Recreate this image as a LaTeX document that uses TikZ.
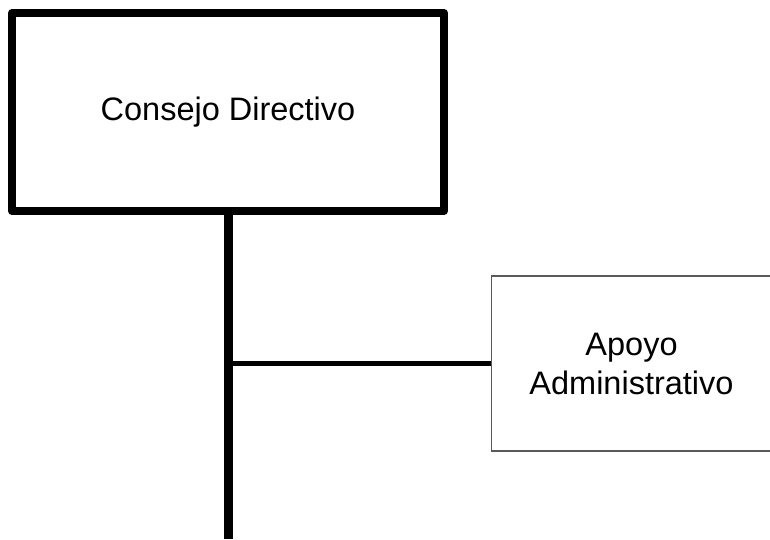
\documentclass[tikz,border=0pt]{standalone}
\usepackage{fontspec}
\setmainfont{Liberation Sans}
\begin{document}
\begin{tikzpicture}[x=1pt,y=1pt,
  headbox/.style={draw=black, line width=8pt, line join=round, fill=white,
    minimum width=432pt, minimum height=198pt, inner sep=0pt,
    font=\fontsize{32.5}{39}\selectfont},
  unitbox/.style={draw=black!65, line width=1.6pt, fill=white,
    minimum width=280pt, minimum height=175pt, inner sep=0pt, align=center,
    font=\fontsize{32.5}{39}\selectfont},
  trunk/.style={line width=9pt},
  branch/.style={line width=4.5pt}]
\useasboundingbox (0,0) rectangle (770,539);

% spine of the chart
\coordinate (spinetop) at (228.5,328);
\coordinate (spinebot) at (228.5,0);
\draw[trunk] (spinetop) -- (spinebot);

% governing board
\node[headbox] (board) at (228,427) {Consejo Directivo};

% administrative support unit
\node[unitbox] (apoyo) at (631.5,175.5) {Apoyo\\Administrativo};

% branch from the spine to the support unit
\draw[branch] (spinetop |- apoyo.west) -- (apoyo.west);
\end{tikzpicture}
\end{document}
